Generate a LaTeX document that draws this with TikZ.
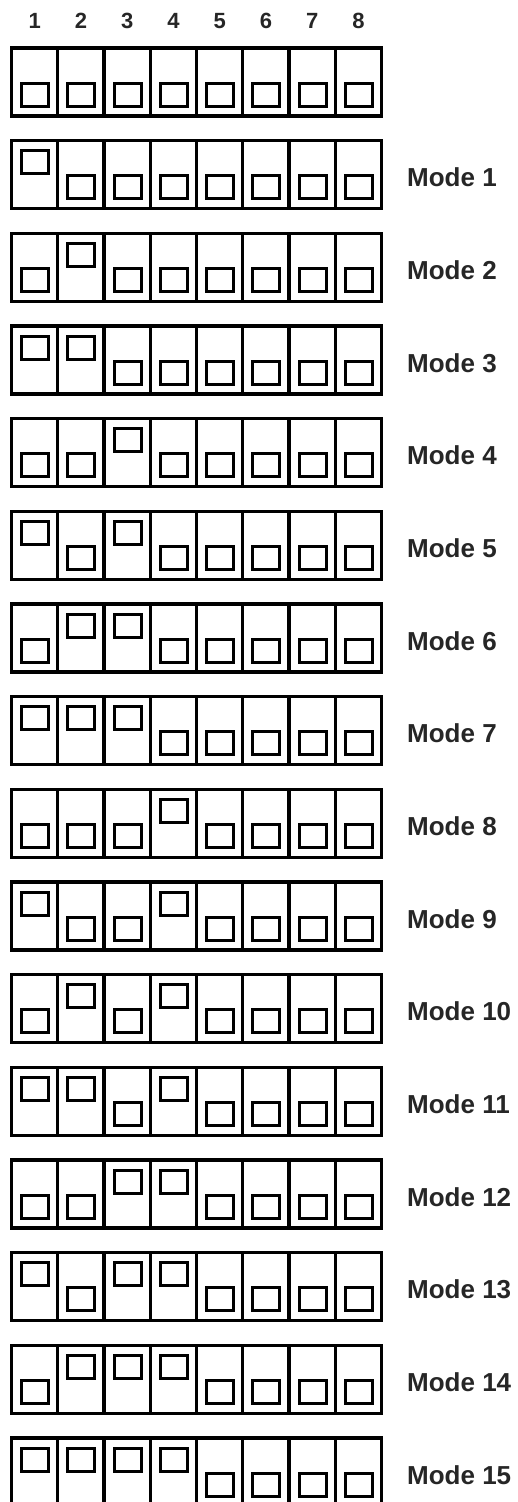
\documentclass[tikz,border=0pt]{standalone}
\usepackage{fontspec}
\setmainfont{Liberation Sans}
\usepackage{tikz}
\usetikzlibrary{calc}

\tikzset{
	dipframe/.style={line width=3.4pt, black},
	dipknob/.style={line width=3pt, black},
	numlabel/.style={anchor=base, inner sep=0pt, text=black!85, font=\fontsize{22}{22}\selectfont\bfseries},
	modelabel/.style={anchor=base west, inner sep=0pt, text=black!85, font=\fontsize{26}{26}\selectfont\bfseries}
}

\begin{document}
\begin{tikzpicture}[x=1pt, y=-1pt]
	\useasboundingbox (0,0) rectangle (517,1502);
	
	% Switch numbers
	\foreach \i in {1,...,8}
		\node[numlabel] (num\i) at ({11.5+(\i-0.5)*46.25}, 28) {\i};
	
	% One row of switches per mode (row 0 = all off)
	\foreach \r in {0,...,15} {
		\pgfmathsetmacro{\rowtop}{48+\r*92.67}
		\draw[dipframe] (11.5,\rowtop) rectangle (381.5,\rowtop+68);
		\foreach \i in {1,...,7}
			\draw[dipframe] ({11.5+\i*46.25},\rowtop) -- ({11.5+\i*46.25},\rowtop+68);
		\foreach \i in {1,...,8} {
			\pgfmathtruncatemacro{\bit}{mod(floor(\r/2^(\i-1)),2)}
			\pgfmathsetmacro{\cellx}{11.5+(\i-1)*46.25+10}
			\ifnum\bit=1
				\draw[dipknob] (\cellx,\rowtop+10) rectangle (\cellx+27,\rowtop+33);
			\else
				\draw[dipknob] (\cellx,\rowtop+35) rectangle (\cellx+27,\rowtop+58);
			\fi
		}
		\ifnum\r>0
			\node[modelabel] (mode\r) at (407,\rowtop+46) {Mode \r};
		\fi
	}
\end{tikzpicture}
\end{document}
